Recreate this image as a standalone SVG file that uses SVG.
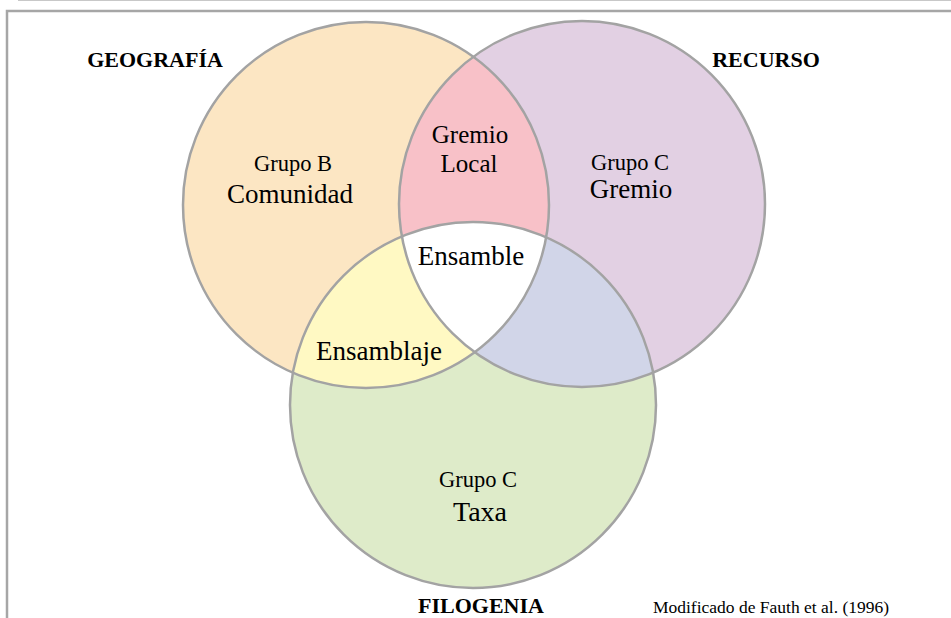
<svg xmlns="http://www.w3.org/2000/svg" width="951" height="618" viewBox="0 0 951 618">
<defs>
<style>
.c{stroke:#a3a3a3;stroke-width:2.5;fill:none}
.t{font-family:"Liberation Serif","Times New Roman",serif;fill:#000;text-anchor:middle}
.h{font-weight:bold;font-size:22px}
.s{font-size:22.5px}
.b{font-size:27px}
</style>
<clipPath id="cL"><circle cx="366" cy="205" r="183"/></clipPath>
<clipPath id="cR"><circle cx="582" cy="204" r="183"/></clipPath>
</defs>
<rect width="951" height="618" fill="#fff"/>
<line x1="18" y1="0.5" x2="951" y2="0.5" stroke="#c8c8c8" stroke-width="1"/>
<polyline points="7,618 7,11 951,11" fill="none" stroke="#a6a6a6" stroke-width="2.5"/>
<g id="circle-geografia"><circle cx="366" cy="205" r="183" fill="#fce6c3"/></g>
<g id="circle-recurso"><circle cx="582" cy="204" r="183" fill="#e2d0e3"/></g>
<g id="circle-filogenia"><circle cx="473" cy="405" r="183" fill="#deebc9"/></g>
<g id="gremio-local"><g clip-path="url(#cL)"><circle cx="582" cy="204" r="183" fill="#f8c1c8"/></g></g>
<g id="ensamblaje"><g clip-path="url(#cL)"><circle cx="473" cy="405" r="183" fill="#fff9c3"/></g></g>
<g id="recurso-filogenia"><g clip-path="url(#cR)"><circle cx="473" cy="405" r="183" fill="#d1d5e8"/></g></g>
<g id="ensamble"><g clip-path="url(#cL)"><g clip-path="url(#cR)"><circle cx="473" cy="405" r="183" fill="#fff"/></g></g></g>
<g id="outlines">
<circle class="c" cx="366" cy="205" r="183"/>
<circle class="c" cx="582" cy="204" r="183"/>
<circle class="c" cx="473" cy="405" r="183"/>
</g>
<g id="labels">
<text class="t h" x="155" y="67">GEOGRAFÍA</text>
<text class="t h" x="766" y="67">RECURSO</text>
<text class="t h" x="481" y="613">FILOGENIA</text>
<text class="t" x="771" y="613" font-size="17.5px">Modificado de Fauth et al. (1996)</text>
<text class="t s" x="293" y="171">Grupo B</text>
<text class="t b" x="290" y="203">Comunidad</text>
<text class="t" x="470" y="143" font-size="25px">Gremio</text>
<text class="t" x="469" y="172" font-size="25px">Local</text>
<text class="t s" x="630" y="170">Grupo C</text>
<text class="t b" x="631" y="198">Gremio</text>
<text class="t b" x="471" y="265">Ensamble</text>
<text class="t b" x="379" y="360">Ensamblaje</text>
<text class="t s" x="478" y="487">Grupo C</text>
<text class="t" x="480" y="521" font-size="28px">Taxa</text>
</g>
</svg>
